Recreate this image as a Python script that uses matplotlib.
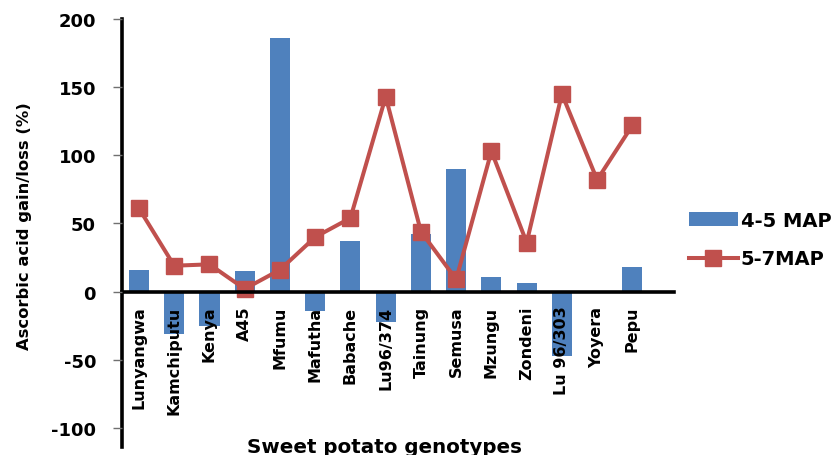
import matplotlib
matplotlib.use("Agg")
import matplotlib.pyplot as plt
import numpy as np

categories = ["Lunyangwa", "Kamchiputu", "Kenya", "A45", "Mfumu", "Mafutha", "Babache",
              "Lu96/374", "Tainung", "Semusa", "Mzungu", "Zondeni", "Lu 96/303", "Yoyera", "Pepu"]
map_4_5 = [16, -31, -25, 15, 186, -14, 37, -22, 42, 90, 11, 6, -47, 0, 18]
map_5_7 = [61, 19, 20, 2, 16, 40, 54, 143, 44, 9, 103, 36, 145, 82, 122]
yticks = [-100, -50, 0, 50, 100, 150, 200]

W, H = 837, 456
fig = plt.figure(figsize=(W / 100, H / 100), dpi=100)
left, right, top, bottom = 121.7, 674, 20, 448
ax = fig.add_axes([left / W, 1 - bottom / H, (right - left) / W, (bottom - top) / H])

FONT = "DejaVu Sans"
blue = "#4F81BD"
red = "#C0504D"

x = np.arange(len(categories))
bars = ax.bar(x, map_4_5, width=0.57, color=blue, zorder=2, label="4-5 MAP")
line, = ax.plot(x, map_5_7, color=red, marker="s", markersize=11.5, linewidth=2.9,
                zorder=3, label="5-7MAP")

ax.set_xlim(-0.49, 15.18)
ax.set_ylim(-114, 200)

for s in ["top", "right"]:
    ax.spines[s].set_visible(False)
ax.spines["bottom"].set_position(("data", 0))
ax.spines["bottom"].set_linewidth(2.6)
ax.spines["left"].set_linewidth(2.6)
ax.spines["bottom"].set_zorder(4)
ax.xaxis.set_zorder(5)
ax.yaxis.set_zorder(5)

ax.set_yticks(yticks)
ax.set_yticklabels([str(v) for v in yticks], fontsize=13, fontweight="bold", family=FONT)
ax.tick_params(axis="y", direction="out", length=6.5, width=1, color="#707070", pad=12)

ax.set_xticks(x)
ax.set_xticklabels(categories, rotation=90, fontsize=11.5, fontweight="bold", family=FONT)
ax.tick_params(axis="x", length=0, pad=10)

fig.text(25 / W, 1 - 226 / H, "Ascorbic acid gain/loss (%)", rotation=90, ha="center",
         va="center", fontsize=11.8, fontweight="bold", family=FONT)
fig.text(385 / W, 1 - 453.5 / H, "Sweet potato genotypes", ha="center", va="baseline",
         fontsize=14.3, fontweight="bold", family=FONT)

leg = fig.legend([bars, line], ["4-5 MAP", "5-7MAP"], loc="upper left",
                 bbox_to_anchor=(689 / W, 1 - 212 / H), frameon=False,
                 borderpad=0, borderaxespad=0, handlelength=2.5, handletextpad=0.15,
                 labelspacing=1.0, prop={"family": FONT, "weight": "bold", "size": 14})

fig.savefig("out.png", dpi=100)
